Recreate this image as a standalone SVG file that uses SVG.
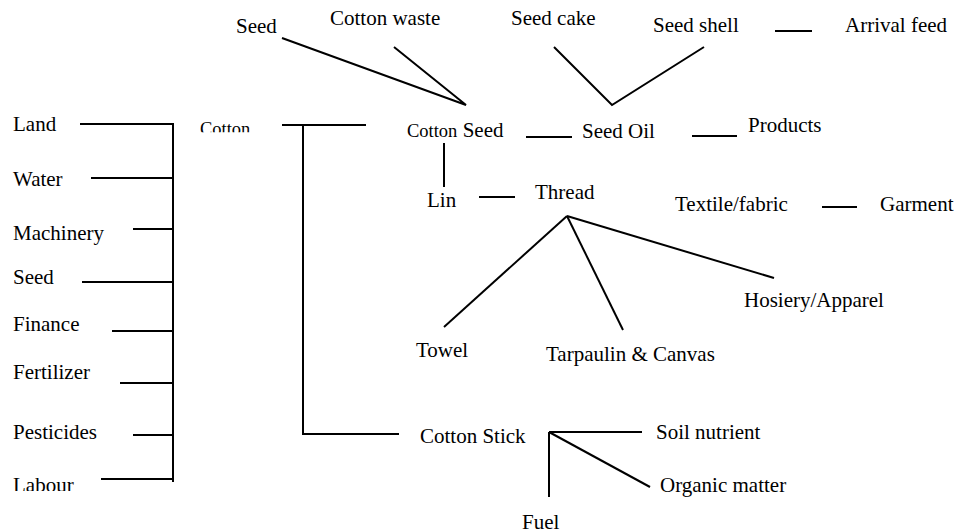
<svg xmlns="http://www.w3.org/2000/svg" width="956" height="531" viewBox="0 0 956 531">
<style>
text{font-family:"Liberation Serif","Times New Roman",serif;font-size:21px;fill:#000}
.s{font-size:18.5px}
line,polyline{stroke:#000;stroke-width:2;fill:none}
</style>
<defs>
<clipPath id="cCot"><rect x="190" y="100" width="80" height="32.3"/></clipPath>
<clipPath id="cLab"><rect x="0" y="460" width="120" height="31"/></clipPath>
</defs>
<rect width="956" height="531" fill="#fff"/>
<g id="connectors">
<line x1="80" y1="124" x2="174" y2="124"/>
<line x1="91" y1="178" x2="173" y2="178"/>
<line x1="133" y1="229" x2="173" y2="229"/>
<line x1="82" y1="282" x2="173" y2="282"/>
<line x1="112" y1="331" x2="173" y2="331"/>
<line x1="120" y1="383" x2="173" y2="383"/>
<line x1="133" y1="435" x2="173" y2="435"/>
<line x1="101" y1="479" x2="173" y2="479"/>
<line x1="173" y1="123" x2="173" y2="482"/>
<line x1="282" y1="125" x2="366" y2="125"/>
<polyline points="303,125 303,434 399,434"/>
<polyline points="282,38 466,105 394,47"/>
<polyline points="554,47 612,105 704,47"/>
<line x1="775" y1="31" x2="812" y2="31"/>
<line x1="526" y1="137" x2="572" y2="137"/>
<line x1="692" y1="136" x2="737" y2="136"/>
<line x1="444" y1="143" x2="444" y2="187"/>
<line x1="479" y1="197" x2="515" y2="197"/>
<line x1="822" y1="207" x2="857" y2="207"/>
<line x1="567" y1="216" x2="444" y2="327"/>
<line x1="567" y1="216" x2="623" y2="330"/>
<line x1="567" y1="216" x2="774" y2="278"/>
<line x1="549" y1="432" x2="642" y2="432"/>
<line x1="549" y1="432" x2="650" y2="487"/>
<line x1="549" y1="432" x2="549" y2="497"/>
</g>
<g id="land"><text x="13" y="131">Land</text></g>
<g id="water"><text x="13" y="186">Water</text></g>
<g id="machinery"><text x="13" y="240">Machinery</text></g>
<g id="seed-input"><text x="13" y="284">Seed</text></g>
<g id="finance"><text x="13" y="331">Finance</text></g>
<g id="fertilizer"><text x="13" y="379">Fertilizer</text></g>
<g id="pesticides"><text x="13" y="439">Pesticides</text></g>
<g id="labour"><text x="13" y="491.5" clip-path="url(#cLab)">Labour</text></g>
<g id="cotton"><text class="s" x="200" y="135" clip-path="url(#cCot)">Cotton</text></g>
<g id="seed-top"><text x="236" y="33">Seed</text></g>
<g id="cotton-waste"><text x="330" y="25">Cotton waste</text></g>
<g id="seed-cake"><text x="511" y="25">Seed cake</text></g>
<g id="seed-shell"><text x="653" y="32">Seed shell</text></g>
<g id="arrival-feed"><text x="845" y="32">Arrival feed</text></g>
<g id="cotton-seed"><text x="407" y="137"><tspan class="s">Cotton</tspan> Seed</text></g>
<g id="seed-oil"><text x="582" y="138">Seed Oil</text></g>
<g id="products"><text x="748" y="132">Products</text></g>
<g id="lin"><text x="427" y="207">Lin</text></g>
<g id="thread"><text x="535" y="199">Thread</text></g>
<g id="textile"><text x="675" y="211">Textile/fabric</text></g>
<g id="garment"><text x="880" y="211">Garment</text></g>
<g id="hosiery"><text x="744" y="307">Hosiery/Apparel</text></g>
<g id="towel"><text x="416" y="357">Towel</text></g>
<g id="tarpaulin"><text x="546" y="361">Tarpaulin &amp; Canvas</text></g>
<g id="cotton-stick"><text x="420" y="443">Cotton Stick</text></g>
<g id="soil-nutrient"><text x="656" y="439">Soil nutrient</text></g>
<g id="organic-matter"><text x="660" y="492">Organic matter</text></g>
<g id="fuel"><text x="522" y="528.5">Fuel</text></g>
</svg>
